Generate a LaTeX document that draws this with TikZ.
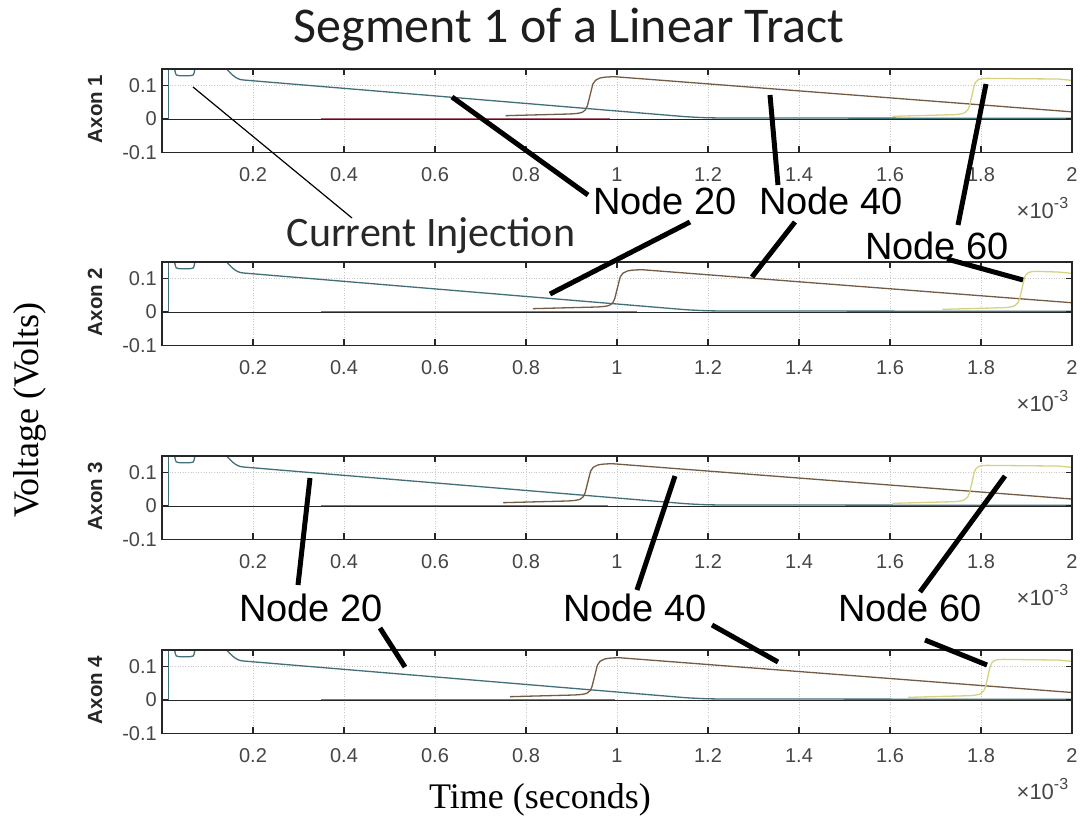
\documentclass[tikz,border=0pt]{standalone}
\usepackage{fontspec}
\setmainfont{Liberation Serif}
\newfontfamily\arialf{Liberation Sans}
\newfontfamily\calib{Carlito}
\definecolor{tealtr}{RGB}{65,112,120}
\definecolor{browntr}{RGB}{115,92,70}
\definecolor{yellowtr}{RGB}{215,210,130}
\definecolor{maroontr}{RGB}{150,60,80}
\definecolor{purpletr}{RGB}{100,70,140}
\definecolor{gridc}{RGB}{200,200,200}
\definecolor{axc}{RGB}{38,38,38}
\definecolor{tickc}{RGB}{70,70,70}
\tikzset{
  gridl/.style={gridc, line width=0.6pt, dotted},
  axisl/.style={axc, line width=1.3pt},
  zeroline/.style={axc, line width=0.9pt},
  tealline/.style={tealtr, line width=1.3pt},
  brownline/.style={browntr, line width=1.3pt},
  yellowline/.style={yellowtr, line width=1.3pt},
  ticklab/.style={font=\arialf\fontsize{20}{24}\selectfont, text=tickc, inner sep=0pt},
  multlab/.style={font=\arialf\fontsize{22}{26}\selectfont, text=tickc, inner sep=0pt},
  axlab/.style={font=\arialf\bfseries\fontsize{20.5}{24}\selectfont, text=axc, inner sep=0pt, rotate=90},
  nodelab/.style={font=\arialf\fontsize{38}{44}\selectfont, text=black, inner sep=0pt},
  pointer/.style={black, line width=5pt},
  thinpointer/.style={black, line width=1.2pt},
  bigserif/.style={font=\fontsize{36}{42}\selectfont, inner sep=0pt},
}
\newcommand\axpanel[4]{%
\begin{scope}[shift={(162pt,-#1pt)}, x=455pt, y=333pt]
  \foreach \t in {0.2,0.4,0.6,0.8,1.0,1.2,1.4,1.6,1.8} \draw[gridl] (\t,-0.1) -- (\t,0.15);
  \draw[gridl] (0,0.1) -- (2,0.1);
  \draw[zeroline] (0,0) -- (2,0);
  \begin{scope}
    \clip (0,-0.1) rectangle (2,0.15);
    \draw[maroontr, line width=1.1pt, opacity=0.8] (0.35,0.002) -- ({#3+0.05},0.002);
    \draw[purpletr, line width=1.1pt, opacity=0.8] ({#4},0.002) -- (2,0.002);
    \draw[tealline] (0.015,0) -- (0.015,0.16);
    \draw[tealline] (0.025,0.16) -- (0.028,0.148) .. controls (0.03,0.13) and (0.032,0.13) .. (0.038,0.13) -- (0.062,0.13) .. controls (0.068,0.13) and (0.07,0.13) .. (0.072,0.148) -- (0.075,0.16);
    \draw[tealline] (0.135,0.16) .. controls (0.15,0.14) and (0.16,0.118) .. (0.18,0.117) -- (1.15,0.007) .. controls (1.2,0.003) .. (1.3,0.003) -- (2,0.002);
    \draw[brownline] ({#3-0.18},0.01) -- ({#3-0.04},0.015) .. controls ({#3-0.01},0.017) and ({#3-0.005},0.02) .. ({#3},0.04) -- ({#3+0.012},0.105) .. controls ({#3+0.018},0.124) and ({#3+0.03},0.126) .. ({#3+0.06},0.127) -- (2,{0.127-0.105*(2-#3-0.06)});
    \draw[yellowline] ({#4-0.17},0.008) -- ({#4-0.035},0.013) .. controls ({#4-0.01},0.015) and ({#4-0.005},0.02) .. ({#4},0.04) -- ({#4+0.01},0.1) .. controls ({#4+0.015},0.12) and ({#4+0.02},0.122) .. ({#4+0.04},0.122) -- (1.97,0.12) -- (2,0.116);
  \end{scope}
  \foreach \t in {0.2,0.4,0.6,0.8,1.0,1.2,1.4,1.6,1.8} {
    \draw[axisl] (\t,-0.1) -- ++(0,6pt);
    \draw[axisl] (\t,0.15) -- ++(0,-6pt);
  }
  \foreach \v in {-0.1,0,0.1} {
    \draw[axisl] (0,\v) -- ++(6pt,0);
    \draw[axisl] (2,\v) -- ++(-6pt,0);
  }
  \draw[axisl] (0,-0.1) rectangle (2,0.15);
  \foreach \t/\l [count=\i] in {0.2/0.2,0.4/0.4,0.6/0.6,0.8/0.8,1/1,1.2/1.2,1.4/1.4,1.6/1.6,1.8/1.8,2/2}
    \node[ticklab] (xl#2-\i) at ([yshift=-22pt]\t,-0.1) {\l};
  \foreach \v/\l [count=\i] in {0.1/0.1,0/0,-0.1/-0.1}
    \node[ticklab, anchor=east] (yl#2-\i) at ([xshift=-5pt]0,\v) {\l};
  \node[axlab] (axon#2) at (-0.147,0.03) {Axon #2};
  \node[multlab] (mult#2) at ([yshift=-56pt]1.935,-0.1) {×10\raisebox{0.45em}{\fontsize{16}{18}\selectfont -3}};
\end{scope}}
\begin{document}
\begin{tikzpicture}[x=1pt, y=-1pt]
\useasboundingbox (0,0) rectangle (1088,827);
\fill[white] (0,0) rectangle (1088,827);
\node[font=\calib\fontsize{50}{56}\selectfont, text={rgb,255:red,30;green,30;blue,30}, inner sep=0pt] (title) at (569,30) {Segment 1 of a Linear Tract};
\axpanel{119}{1}{0.935}{1.775}
\axpanel{312}{2}{0.995}{1.885}
\axpanel{506}{3}{0.93}{1.775}
\axpanel{700}{4}{0.945}{1.81}
% labels
\node[font=\calib\fontsize{42}{48}\selectfont, text={rgb,255:red,40;green,40;blue,40}, inner sep=0pt] (ci) at (431,236) {Current Injection};
\node[nodelab] (n20a) at (665,201) {Node 20};
\node[nodelab] (n40a) at (831,201) {Node 40};
\node[nodelab] (n60a) at (937,246) {Node 60};
\node[nodelab] (n20b) at (311,608) {Node 20};
\node[nodelab] (n40b) at (635,608) {Node 40};
\node[nodelab] (n60b) at (910,608) {Node 60};
\node[bigserif, rotate=90] (ylab) at (30,410) {Voltage (Volts)};
\node[bigserif] (xlab) at (540,800) {Time (seconds)};
% pointer coordinates
\coordinate (ciS) at (352,218); \coordinate (ciE) at (193,87);
\coordinate (a1S) at (588,195); \coordinate (a1E) at (452,97);
\coordinate (b1S) at (778,185); \coordinate (b1E) at (770,95);
\coordinate (c1S) at (958,225); \coordinate (c1E) at (986,84);
\coordinate (a2S) at (690,222); \coordinate (a2E) at (550,294);
\coordinate (b2S) at (795,222); \coordinate (b2E) at (752,277);
\coordinate (c2S) at (947,259); \coordinate (c2E) at (1023,280);
\coordinate (a3S) at (298,585); \coordinate (a3E) at (310,478);
\coordinate (b3S) at (637,590); \coordinate (b3E) at (675,476);
\coordinate (c3S) at (920,592); \coordinate (c3E) at (1005,476);
\coordinate (a4S) at (380,628); \coordinate (a4E) at (405,667);
\coordinate (b4S) at (712,625); \coordinate (b4E) at (778,662);
\coordinate (c4S) at (925,640); \coordinate (c4E) at (987,665);
\draw[thinpointer] (ciS) -- (ciE);
\foreach \p in {a1,b1,c1,a2,b2,c2,a3,b3,c3,a4,b4,c4}
  \draw[pointer] (\p S) -- (\p E);
\end{tikzpicture}
\end{document}
